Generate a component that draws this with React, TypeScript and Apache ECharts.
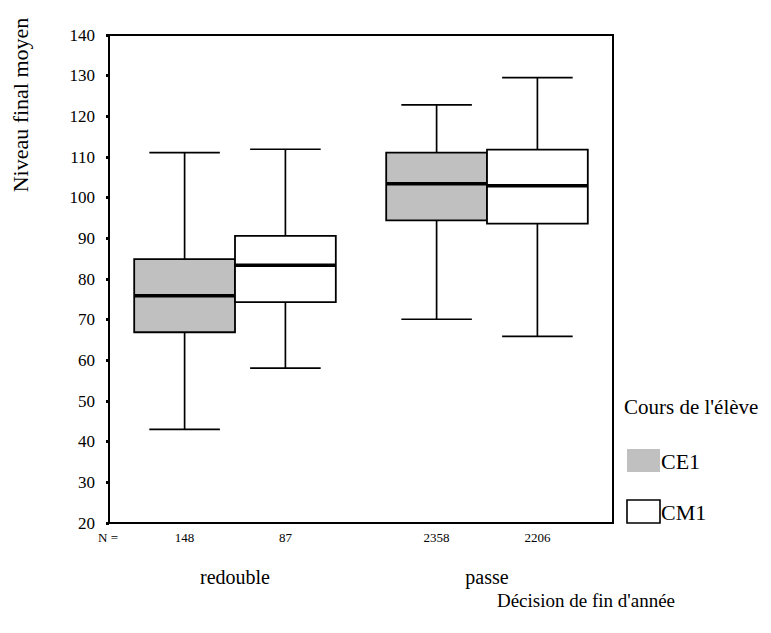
import React, { useEffect, useRef } from "react";
import * as echarts from "echarts";

const categories = ["redouble", "passe"];
const seriesNames = ["CE1", "CM1"];
const seriesFills = ["#c0c0c0", "#ffffff"];
// [categoryIndex, min, q1, median, q3, max, N]
const ce1Data = [
  [0, 43.0, 66.9, 75.9, 84.9, 111.1, 148],
  [1, 70.1, 94.4, 103.4, 111.1, 122.8, 2358],
];
const cm1Data = [
  [0, 58.1, 74.3, 83.4, 90.6, 111.9, 87],
  [1, 65.9, 93.6, 102.9, 111.8, 129.5, 2206],
];
const yTicksMin = 20;
const yTicksMax = 140;
const yInterval = 10;

const FONT = "Liberation Serif, Times New Roman, serif";

function makeRender(offsetFrac: number, fill: string) {
  return (params: any, api: any) => {
    const cat = api.value(0);
    const band = api.size([1, 0])[0];
    const bw = band * 0.4;
    const capW = bw * 0.7;
    const pMin = api.coord([cat, api.value(1)]);
    const pQ1 = api.coord([cat, api.value(2)]);
    const pMed = api.coord([cat, api.value(3)]);
    const pQ3 = api.coord([cat, api.value(4)]);
    const pMax = api.coord([cat, api.value(5)]);
    const pBase = api.coord([cat, yTicksMin]);
    const cx = pMin[0] + offsetFrac * band;
    const lineStyle = { stroke: "#000", lineWidth: 1.7 };
    return {
      type: "group",
      children: [
        { type: "line", shape: { x1: cx, y1: pQ1[1], x2: cx, y2: pMin[1] }, style: lineStyle },
        { type: "line", shape: { x1: cx, y1: pQ3[1], x2: cx, y2: pMax[1] }, style: lineStyle },
        { type: "line", shape: { x1: cx - capW / 2, y1: pMin[1], x2: cx + capW / 2, y2: pMin[1] }, style: lineStyle },
        { type: "line", shape: { x1: cx - capW / 2, y1: pMax[1], x2: cx + capW / 2, y2: pMax[1] }, style: lineStyle },
        {
          type: "rect",
          shape: { x: cx - bw / 2, y: pQ3[1], width: bw, height: pQ1[1] - pQ3[1] },
          style: { fill, stroke: "#000", lineWidth: 1.8 },
        },
        {
          type: "line",
          shape: { x1: cx - bw / 2, y1: pMed[1], x2: cx + bw / 2, y2: pMed[1] },
          style: { stroke: "#000", lineWidth: 3.5 },
        },
        {
          type: "text",
          style: {
            x: cx,
            y: pBase[1] + 14,
            text: String(api.value(6)),
            fill: "#000",
            fontFamily: FONT,
            fontSize: 13,
            align: "center",
            verticalAlign: "middle",
          },
        },
      ],
    };
  };
}

export default function App() {
  const ref = useRef<HTMLDivElement>(null);
  useEffect(() => {
    if (!ref.current) return;
    const chart = echarts.init(ref.current, undefined, { renderer: "svg" });
    const legendItems: any[] = [];
    seriesNames.forEach((name, i) => {
      const top = 449 + i * 51;
      legendItems.push({
        type: "rect",
        shape: { x: 627, y: top, width: 33, height: 23 },
        style: {
          fill: seriesFills[i],
          stroke: i === 0 ? "none" : "#000",
          lineWidth: i === 0 ? 0 : 1.6,
        },
      });
      legendItems.push({
        type: "text",
        x: 661,
        y: top + 12,
        style: {
          text: name,
          fontFamily: FONT,
          fontSize: 22,
          fill: "#000",
          align: "left",
          verticalAlign: "middle",
        },
      });
    });
    const option: any = {
      animation: false,
      backgroundColor: "#fff",
      textStyle: { fontFamily: FONT, color: "#000" },
      grid: {
        left: 109,
        right: 158,
        top: 35,
        bottom: 110,
        show: true,
        borderColor: "#000",
        borderWidth: 2,
        backgroundColor: "transparent",
      },
      xAxis: {
        type: "category",
        data: categories,
        boundaryGap: true,
        axisLine: { lineStyle: { color: "#000", width: 2 } },
        axisTick: { alignWithLabel: true, length: 3, lineStyle: { color: "#000", width: 3 } },
        axisLabel: { margin: 44, fontSize: 20, color: "#000", fontFamily: FONT },
        splitLine: { show: false },
      },
      yAxis: {
        type: "value",
        min: yTicksMin,
        max: yTicksMax,
        interval: yInterval,
        axisLine: { show: true, lineStyle: { color: "#000", width: 2 } },
        axisTick: { show: true, length: 3, lineStyle: { color: "#000", width: 3 } },
        axisLabel: { margin: 14, fontSize: 17, color: "#000", fontFamily: FONT },
        splitLine: { show: false },
      },
      graphic: [
        {
          type: "text",
          x: 20,
          y: 105,
          rotation: Math.PI / 2,
          style: {
            text: "Niveau final moyen",
            fontFamily: FONT,
            fontSize: 22,
            fill: "#000",
            align: "center",
            verticalAlign: "middle",
          },
        },
        {
          type: "text",
          x: 108,
          y: 537,
          style: { text: "N =", fontFamily: FONT, fontSize: 13, fill: "#000", align: "center", verticalAlign: "middle" },
        },
        {
          type: "text",
          x: 586,
          y: 600,
          style: {
            text: "Décision de fin d'année",
            fontFamily: FONT,
            fontSize: 19,
            fill: "#000",
            align: "center",
            verticalAlign: "middle",
          },
        },
        {
          type: "text",
          x: 624,
          y: 407,
          style: {
            text: "Cours de l'élève",
            fontFamily: FONT,
            fontSize: 21,
            fill: "#000",
            align: "left",
            verticalAlign: "middle",
          },
        },
        ...legendItems,
      ],
      series: [
        {
          name: seriesNames[0],
          type: "custom",
          renderItem: makeRender(-0.2, seriesFills[0]),
          encode: { x: 0, y: [1, 2, 3, 4, 5] },
          data: ce1Data,
          z: 2,
        },
        {
          name: seriesNames[1],
          type: "custom",
          renderItem: makeRender(0.2, seriesFills[1]),
          encode: { x: 0, y: [1, 2, 3, 4, 5] },
          data: cm1Data,
          z: 3,
        },
      ],
    };
    chart.setOption(option);
    return () => chart.dispose();
  }, []);
  return (
    <div
      ref={ref}
      style={{ position: "absolute", left: 0, top: 0, width: 771, height: 633 }}
    />
  );
}
